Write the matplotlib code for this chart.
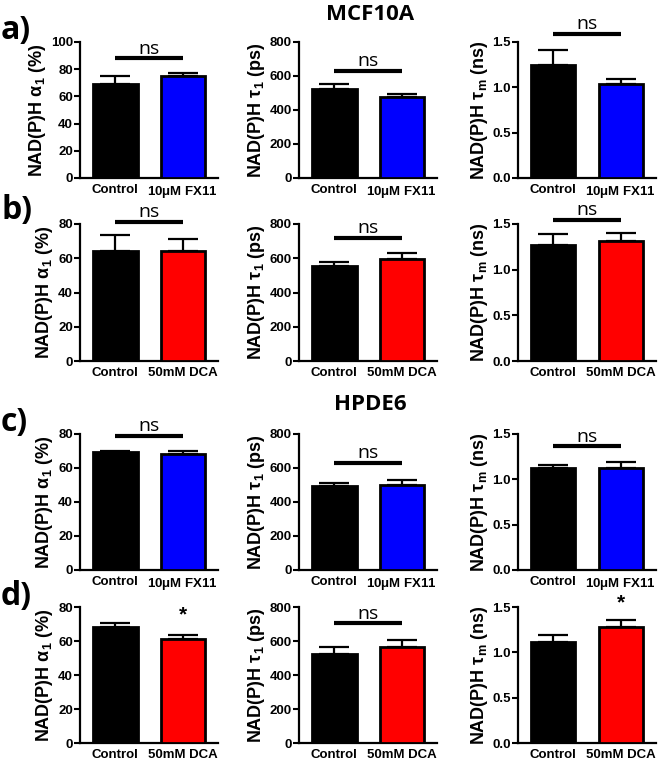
import matplotlib
matplotlib.use("Agg")
import matplotlib.pyplot as plt

plt.rcParams['font.family'] = ['Liberation Sans', 'DejaVu Sans']
plt.rcParams['mathtext.fontset'] = 'dejavusans'

# ---------------- data ----------------
fx_labels = ["Control", "10$\\mathregular{\\mu}$M FX11"]
dca_labels = ["Control", "50mM DCA"]

a_alpha = [68.9, 75.0];  a_alpha_err = [6.3, 2.0]
a_tau1 = [523, 478];     a_tau1_err = [32, 16]
a_taum = [1.246, 1.04];  a_taum_err = [0.162, 0.048]

b_alpha = [64.1, 64.0];  b_alpha_err = [9.3, 7.4]
b_tau1 = [554, 597];     b_tau1_err = [24, 31]
b_taum = [1.266, 1.31];  b_taum_err = [0.121, 0.088]

c_alpha = [69.6, 68.2];  c_alpha_err = [0.6, 1.8]
c_tau1 = [492, 500];     c_tau1_err = [22, 29]
c_taum = [1.121, 1.129]; c_taum_err = [0.033, 0.061]

d_alpha = [68.0, 61.2];  d_alpha_err = [2.4, 2.5]
d_tau1 = [523, 563];     d_tau1_err = [44, 45]
d_taum = [1.119, 1.281]; d_taum_err = [0.068, 0.072]

ylabels = [r'NAD(P)H $\mathregular{\alpha_1}$ (%)', r'NAD(P)H $\mathregular{\tau_1}$ (ps)',
           r'NAD(P)H $\mathregular{\tau_m}$ (ns)']
row_alpha_lim = [(0, 100), (0, 80), (0, 80), (0, 80)]
alpha_ticks = [[0, 20, 40, 60, 80, 100], [0, 20, 40, 60, 80], [0, 20, 40, 60, 80], [0, 20, 40, 60, 80]]
tau1_ticks = [0, 200, 400, 600, 800]
taum_ticks = [0.0, 0.5, 1.0, 1.5]

rows = [
    ([a_alpha, a_tau1, a_taum], [a_alpha_err, a_tau1_err, a_taum_err], fx_labels, '#0000FF'),
    ([b_alpha, b_tau1, b_taum], [b_alpha_err, b_tau1_err, b_taum_err], dca_labels, '#FF0000'),
    ([c_alpha, c_tau1, c_taum], [c_alpha_err, c_tau1_err, c_taum_err], fx_labels, '#0000FF'),
    ([d_alpha, d_tau1, d_taum], [d_alpha_err, d_tau1_err, d_taum_err], dca_labels, '#FF0000'),
]
# significance annotations: (type, line y in axes fraction)
sig = [
    [('ns', 0.88), ('ns', 0.79), ('ns', 1.06)],
    [('ns', 1.015), ('ns', 0.90), ('ns', 1.03)],
    [('ns', 0.985), ('ns', 0.79), ('ns', 0.91)],
    [('*', 0.94), ('ns', 0.88), ('*', 1.03)],
]

# ---------------- layout ----------------
W, H = 660, 764
fig = plt.figure(figsize=(W / 100, H / 100), dpi=100)
row_px = [(42, 178), (224, 361), (434, 570), (607, 743)]
col_px = [80, 299, 518]
ax_w = 138

for r, (vals, errs, labels, color) in enumerate(rows):
    top, bot = row_px[r]
    for c in range(3):
        left = col_px[c]
        ax = fig.add_axes([left / W, 1 - bot / H, ax_w / W, (bot - top) / H])
        x = [0, 1]
        ax.bar(x, vals[c], width=0.66, color=['black', color], edgecolor='black',
               linewidth=2, zorder=3)
        ax.errorbar(x, vals[c], yerr=[[0, 0], errs[c]], fmt='none', ecolor='black',
                    elinewidth=1.6, capsize=11, capthick=1.6, zorder=2)
        ax.set_xlim(-0.52, 1.52)
        if c == 0:
            ax.set_ylim(*row_alpha_lim[r])
            ax.set_yticks(alpha_ticks[r])
        elif c == 1:
            ax.set_ylim(0, 800)
            ax.set_yticks(tau1_ticks)
        else:
            ax.set_ylim(0, 1.5)
            ax.set_yticks(taum_ticks)
            ax.set_yticklabels(['0.0', '0.5', '1.0', '1.5'])
        ax.set_xticks(x)
        ax.set_xticklabels(labels)
        for s in ['top', 'right']:
            ax.spines[s].set_visible(False)
        for s in ['left', 'bottom']:
            ax.spines[s].set_linewidth(1.6)
        ax.tick_params(axis='y', direction='out', length=4, width=1.5, pad=1)
        ax.tick_params(axis='x', length=0, pad=4)
        for t in ax.get_xticklabels() + ax.get_yticklabels():
            t.set_fontweight('bold')
            t.set_fontsize(9.5)
        ax.set_ylabel(ylabels[c], fontsize=13, fontweight='bold', labelpad=2)
        kind, ly = sig[r][c]
        if kind == 'ns':
            ax.plot([0, 1], [ly, ly], color='black', lw=3, solid_capstyle='butt',
                    transform=ax.get_xaxis_transform(), clip_on=False, zorder=4)
            ax.text(0.5, ly + 0.005, 'ns', transform=ax.get_xaxis_transform(),
                    ha='center', va='bottom', fontsize=14, family='Open Sans')
        else:
            ax.text(1, ly, '*', transform=ax.get_xaxis_transform(),
                    ha='center', va='center', fontsize=15, fontweight='bold')

# panel labels and titles
for lab, y in zip(['a)', 'b)', 'c)', 'd)'], [31, 211, 422, 596]):
    fig.text(1 / W, 1 - y / H, lab, fontsize=23, fontweight='bold', family='Open Sans',
             ha='left', va='center')
fig.text(370 / W, 1 - 14 / H, 'MCF10A', fontsize=16, fontweight='bold', family='Open Sans',
         ha='center', va='center')
fig.text(370 / W, 1 - 405 / H, 'HPDE6', fontsize=16, fontweight='bold', family='Open Sans',
         ha='center', va='center')

fig.savefig('out.png', dpi=100)
